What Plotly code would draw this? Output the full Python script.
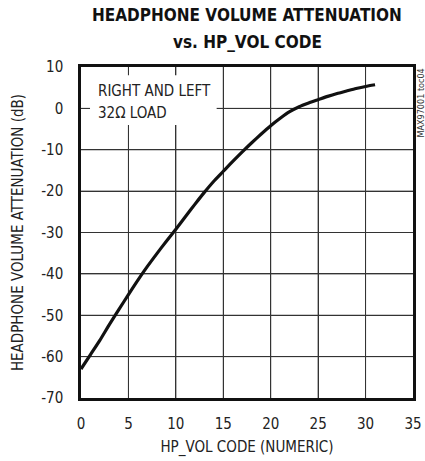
import plotly.graph_objects as go

codes = list(range(0, 32))
atten_db = [-63, -59.5, -56, -52.2, -48.6, -45, -41.5, -38.2, -35.1, -32.1, -29.2,
            -26.2, -23.2, -20.3, -17.6, -15.2, -12.8, -10.5, -8.3, -6.2, -4.2,
            -2.4, -0.8, 0.4, 1.3, 2.1, 2.9, 3.6, 4.2, 4.8, 5.3, 5.7]

x_ticks = [0, 5, 10, 15, 20, 25, 30, 35]
y_ticks = [10, 0, -10, -20, -30, -40, -50, -60, -70]

FONT = "DejaVu Sans Condensed, Liberation Sans Narrow, sans-serif"
GRID = "#333333"

fig = go.Figure()

# grid lines at the tick positions (drawn through the axes' scales)
for xv in x_ticks[1:-1]:
    fig.add_shape(type="line", xref="x", yref="paper", x0=xv, x1=xv, y0=0, y1=1,
                  line=dict(color=GRID, width=1), layer="below")
for yv in y_ticks[1:-1]:
    fig.add_shape(type="line", xref="paper", yref="y", x0=0, x1=1, y0=yv, y1=yv,
                  line=dict(color=GRID, width=1), layer="below")

fig.add_trace(go.Scatter(x=codes, y=atten_db, mode="lines",
                         line=dict(color="#111111", width=3.2, shape="spline", smoothing=0.6),
                         showlegend=False, hoverinfo="skip"))

fig.add_shape(type="rect", xref="x", yref="y", x0=0.95, x1=14.3, y0=-4, y1=8,
              fillcolor="white", line=dict(width=0), layer="above")

fig.add_annotation(x=1.6, y=4.2, xref="x", yref="y", text="RIGHT AND LEFT",
                   showarrow=False, xanchor="left", yanchor="middle",
                   font=dict(family=FONT, size=15, color="#222"))
fig.add_annotation(x=1.6, y=-1.0, xref="x", yref="y", text="32Ω LOAD",
                   showarrow=False, xanchor="left", yanchor="middle",
                   font=dict(family=FONT, size=15, color="#222"))

fig.add_annotation(x=1.0, y=1.0, xref="paper", yref="paper", xshift=7,
                   text="MAX97001 toc04", textangle=-90, showarrow=False,
                   xanchor="center", yanchor="top",
                   font=dict(family=FONT, size=9, color="#333"))

# title as two annotation lines
fig.add_annotation(x=0.5, y=1.0, xref="paper", yref="paper", yshift=52,
                   text="<b>HEADPHONE VOLUME ATTENUATION</b>", showarrow=False,
                   xanchor="center", yanchor="middle",
                   font=dict(family=FONT, size=17, color="#111"))
fig.add_annotation(x=0.5, y=1.0, xref="paper", yref="paper", yshift=25,
                   text="<b>vs. HP_VOL CODE</b>", showarrow=False,
                   xanchor="center", yanchor="middle",
                   font=dict(family=FONT, size=17, color="#111"))

fig.update_layout(
    template="none",
    width=425, height=461,
    margin=dict(l=81, r=12, t=67, b=63, autoexpand=False),
    paper_bgcolor="white", plot_bgcolor="white",
    font=dict(family=FONT, size=15, color="#222"),
)

fig.update_xaxes(range=[0, 35], tickmode="array", tickvals=x_ticks,
                 ticktext=[str(v) for v in x_ticks],
                 showgrid=True, gridcolor=GRID, gridwidth=1,
                 zeroline=False, showline=True, linecolor="#111111",
                 linewidth=2.5, mirror=True, automargin=False,
                 ticks="outside", ticklen=10, tickcolor="rgba(0,0,0,0)",
                 title=dict(text="HP_VOL CODE (NUMERIC)", standoff=10,
                            font=dict(family=FONT, size=15, color="#222")))
fig.update_yaxes(range=[-70, 10], tickmode="array", tickvals=y_ticks,
                 ticktext=[str(v) for v in y_ticks],
                 showgrid=True, gridcolor=GRID, gridwidth=1,
                 zeroline=False, showline=True, linecolor="#111111",
                 linewidth=2.5, mirror=True, automargin=False,
                 ticks="outside", ticklen=12, tickcolor="rgba(0,0,0,0)",
                 title=dict(text="HEADPHONE VOLUME ATTENUATION (dB)", standoff=14,
                            font=dict(family=FONT, size=15, color="#222")))

fig.write_html("out.html", config={"displayModeBar": False},
               post_script="document.body.style.margin='0';")
